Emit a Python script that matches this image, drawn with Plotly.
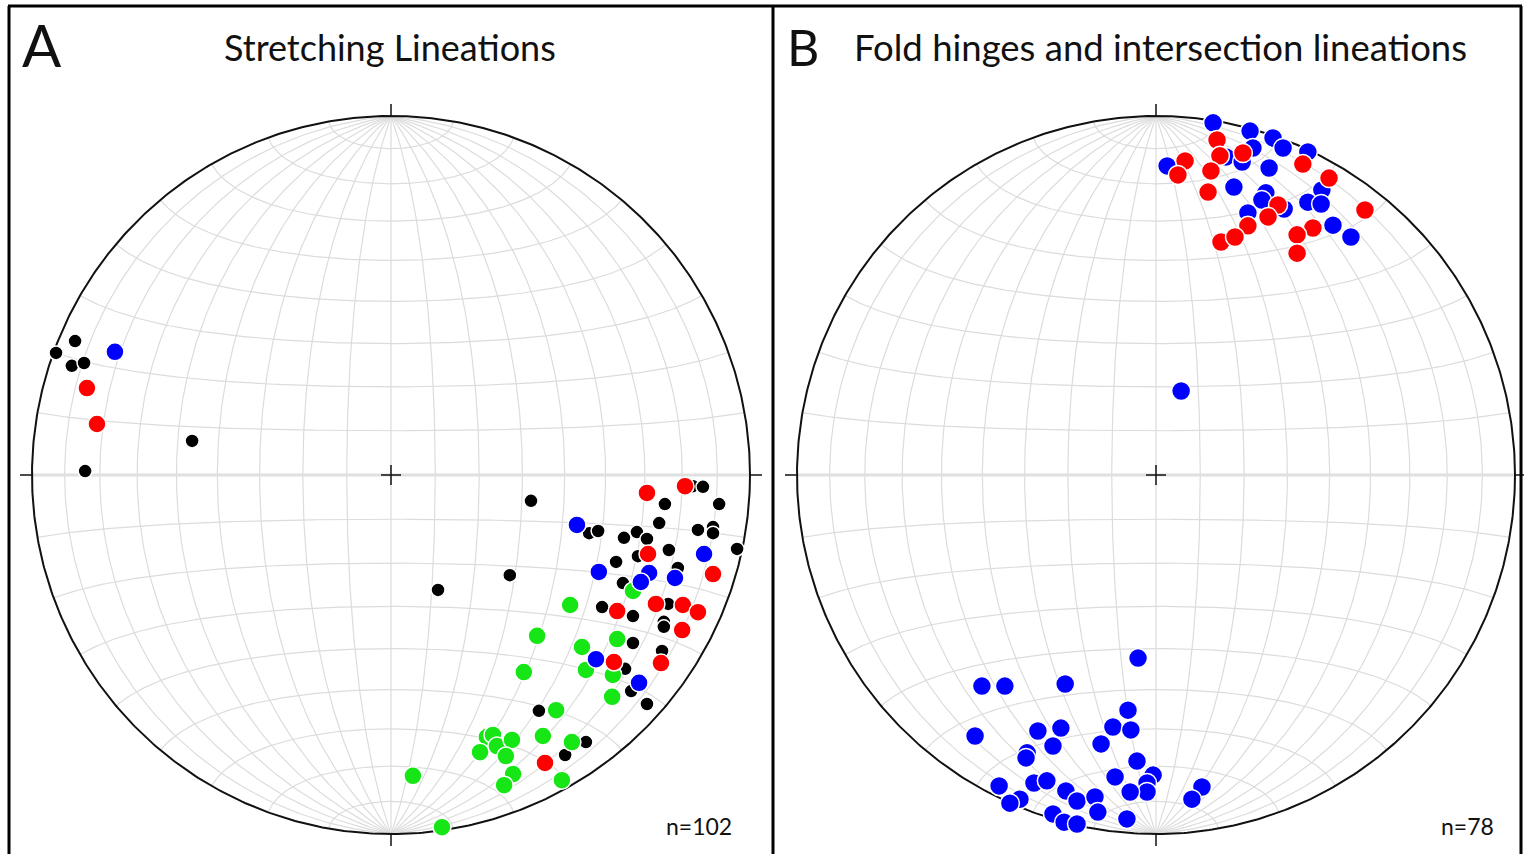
import numpy as np
import plotly.graph_objects as go

W, H = 1524, 854

# ---------------- data (projected lower-hemisphere coords, unit = net radius) ----------------
# Panel A: Stretching lineations
a_black_x = [-0.880, -0.933, -0.889, -0.855, -0.554, -0.852, 0.390, 0.841, 0.869, 0.763, 0.914, 0.747,
             0.855, 0.897, 0.897, 0.964, 0.552, 0.577, 0.649, 0.685, 0.713, 0.688, 0.774, 0.627, 0.799,
             0.646, 0.331, 0.131, 0.588, 0.674, 0.772, 0.760, 0.760, 0.674, 0.755, 0.652, 0.669, 0.713,
             0.412, 0.543, 0.485]
a_black_y = [0.373, 0.340, 0.304, 0.312, 0.095, 0.011, -0.072, -0.031, -0.033, -0.081, -0.081, -0.134,
             -0.153, -0.145, -0.162, -0.206, -0.162, -0.156, -0.175, -0.159, -0.178, -0.226, -0.209, -0.242,
             -0.259, -0.301, -0.279, -0.320, -0.368, -0.393, -0.359, -0.409, -0.423, -0.468, -0.490, -0.540,
             -0.602, -0.638, -0.657, -0.744, -0.780]
a_green_x = [0.674, 0.499, 0.407, 0.532, 0.630, 0.370, 0.543, 0.618, 0.616, 0.460, 0.423, 0.267, 0.284,
             0.295, 0.337, 0.248, 0.320, 0.504, 0.340, 0.315, 0.476, 0.061, 0.142]
a_green_y = [-0.323, -0.362, -0.448, -0.479, -0.457, -0.549, -0.543, -0.557, -0.618, -0.655, -0.727, -0.730,
             -0.724, -0.755, -0.738, -0.772, -0.783, -0.744, -0.833, -0.864, -0.850, -0.838, -0.981]
a_blue_x = [-0.769, 0.518, 0.872, 0.579, 0.719, 0.696, 0.791, 0.571, 0.691]
a_blue_y = [0.343, -0.139, -0.220, -0.270, -0.273, -0.298, -0.287, -0.513, -0.579]
a_red_x = [-0.847, -0.819, 0.713, 0.819, 0.716, 0.897, 0.630, 0.738, 0.813, 0.855, 0.811, 0.621, 0.752, 0.429]
a_red_y = [0.242, 0.142, -0.050, -0.031, -0.220, -0.276, -0.379, -0.359, -0.362, -0.382, -0.432, -0.521,
           -0.524, -0.802]

# Panel B: Fold hinges and intersection lineations
b_blue_x = [0.159, 0.262, 0.326, 0.354, 0.423, 0.195, 0.270, 0.240, 0.031, 0.315, 0.217, 0.306, 0.295,
            0.357, 0.256, 0.462, 0.423, 0.460, 0.493, 0.543, 0.070,
            -0.050, -0.485, -0.421, -0.253, -0.078, -0.504, -0.329, -0.265, -0.120, -0.070, -0.287, -0.153,
            -0.359, -0.362, -0.053, -0.437, -0.340, -0.304, -0.114, -0.008, -0.025, -0.025, -0.072, 0.128,
            0.100, -0.379, -0.407, -0.251, -0.220, -0.170, -0.162, -0.287, -0.256, -0.220, -0.081]
b_blue_y = [0.981, 0.958, 0.939, 0.911, 0.900, 0.886, 0.911, 0.872, 0.861, 0.855, 0.802, 0.786, 0.766,
            0.741, 0.730, 0.794, 0.760, 0.755, 0.696, 0.663, 0.234,
            -0.510, -0.588, -0.588, -0.582, -0.655, -0.727, -0.713, -0.705, -0.702, -0.710, -0.755, -0.749,
            -0.774, -0.788, -0.797, -0.866, -0.858, -0.852, -0.841, -0.836, -0.858, -0.883, -0.883, -0.869,
            -0.903, -0.903, -0.914, -0.880, -0.908, -0.897, -0.939, -0.944, -0.967, -0.972, -0.958]
b_red_x = [0.170, 0.178, 0.242, 0.081, 0.061, 0.153, 0.409, 0.482, 0.145, 0.340, 0.256, 0.312, 0.582,
           0.437, 0.393, 0.181, 0.220, 0.393]
b_red_y = [0.933, 0.889, 0.897, 0.875, 0.836, 0.847, 0.866, 0.827, 0.788, 0.752, 0.694, 0.719, 0.738,
           0.688, 0.669, 0.649, 0.663, 0.618]

titles = ["Stretching Lineations", "Fold hinges and intersection lineations"]
letters = ["A", "B"]
counts = ["n=102", "n=78"]

# ---------------- layout geometry ----------------
R = 359.0
centers = [(391.0, 475.0), (1156.0, 475.0)]
xdom_px = [(0.0, 773.0), (773.0, 1524.0)]

BLACK = "#000000"
RED = "#ff0000"
BLUE = "#0000ff"
GREEN = "#16e616"
GRID = "#dcdcdc"


def proj(e, n, u):
    s = np.sqrt(1.0 - u)
    return e / s, n / s


def net_lines():
    xs, ys = [], []
    th = np.linspace(0, np.pi, 181)
    for d in range(10, 91, 10):
        dr = np.radians(d)
        for sgn in (1, -1):
            if d == 90 and sgn == -1:
                continue
            e = np.sin(th) * sgn * np.cos(dr)
            n = np.cos(th)
            u = -np.sin(th) * np.sin(dr)
            x, y = proj(e, n, u)
            xs += list(x) + [None]
            ys += list(y) + [None]
    be = np.linspace(-np.pi, 0, 181)
    for a in range(10, 171, 10):
        if a == 90:
            continue
        ar = np.radians(a)
        e = np.sin(ar) * np.cos(be)
        n = np.full_like(be, np.cos(ar))
        u = np.sin(ar) * np.sin(be)
        x, y = proj(e, n, u)
        xs += list(x) + [None]
        ys += list(y) + [None]
    return xs, ys


gx, gy = net_lines()
t = np.linspace(0, 2 * np.pi, 721)
cx_, cy_ = np.cos(t), np.sin(t)

fig = go.Figure()

panels = [
    [(a_black_x, a_black_y, BLACK, 14), (a_green_x, a_green_y, GREEN, 18),
     (a_blue_x, a_blue_y, BLUE, 18), (a_red_x, a_red_y, RED, 18)],
    [(b_blue_x, b_blue_y, BLUE, 19), (b_red_x, b_red_y, RED, 19)],
]

for i in range(2):
    xa = "x" if i == 0 else "x2"
    ya = "y" if i == 0 else "y2"
    fig.add_trace(go.Scatter(x=gx, y=gy, mode="lines", line=dict(color=GRID, width=1.2),
                             xaxis=xa, yaxis=ya, hoverinfo="skip", showlegend=False))
    fig.add_trace(go.Scatter(x=[-1, 1], y=[0, 0], mode="lines", line=dict(color="#e0e0e0", width=3),
                             xaxis=xa, yaxis=ya, hoverinfo="skip", showlegend=False))
    fig.add_trace(go.Scatter(x=cx_, y=cy_, mode="lines", line=dict(color="#111111", width=2),
                             xaxis=xa, yaxis=ya, hoverinfo="skip", showlegend=False))
    tk = 12.0 / R
    ck = 10.0 / R
    tx = [0, 0, None, 0, 0, None, -1 - tk, -1, None, 1, 1 + tk, None, -ck, ck, None, 0, 0]
    ty = [1, 1 + tk, None, -1, -1 - tk, None, 0, 0, None, 0, 0, None, 0, 0, None, -ck, ck]
    fig.add_trace(go.Scatter(x=tx, y=ty, mode="lines", line=dict(color="#111111", width=1.5),
                             xaxis=xa, yaxis=ya, hoverinfo="skip", showlegend=False))
    for (px, py, col, sz) in panels[i]:
        fig.add_trace(go.Scatter(x=px, y=py, mode="markers",
                                 marker=dict(color=col, size=sz, line=dict(color="white", width=1.5)),
                                 xaxis=xa, yaxis=ya, showlegend=False))

layout_axes = {}
for i in range(2):
    cx, cy = centers[i]
    x0, x1 = xdom_px[i]
    xr = [(x0 - cx) / R, (x1 - cx) / R]
    yr = [(cy - H) / R, cy / R]
    sfx = "" if i == 0 else "2"
    layout_axes["xaxis" + sfx] = dict(domain=[x0 / W, x1 / W], range=xr, visible=False, fixedrange=True)
    layout_axes["yaxis" + sfx] = dict(domain=[0, 1], range=yr, visible=False, fixedrange=True)

fig.update_layout(
    width=W, height=H, margin=dict(l=0, r=0, t=0, b=0),
    paper_bgcolor="white", plot_bgcolor="white", showlegend=False,
    **layout_axes,
)

FONT = "Lato, Roboto, sans-serif"


def ann(px, py, text, size, xanchor="center"):
    fig.add_annotation(x=px / W, y=1 - py / H, xref="paper", yref="paper", text=text, showarrow=False,
                       xanchor=xanchor, yanchor="middle", font=dict(family=FONT, size=size, color="#111111"))


ann(20, 45, "A", 58, "left")
ann(390, 47, titles[0], 36)
ann(785, 47, "B", 50, "left")
ann(1160, 47, titles[1], 36.5)
ann(699, 826, counts[0], 23)
ann(1467, 826, counts[1], 23)

# panel borders
def pline(x0, y0, x1, y1, w=3):
    fig.add_shape(type="line", xref="paper", yref="paper", x0=x0 / W, y0=1 - y0 / H, x1=x1 / W,
                  y1=1 - y1 / H, line=dict(color="#000000", width=w))

pline(8, 6, 1522, 6)
pline(9, 6, 9, 856)
pline(773, 6, 773, 856)
pline(1521, 6, 1521, 856)

fig.write_html("out.html")
